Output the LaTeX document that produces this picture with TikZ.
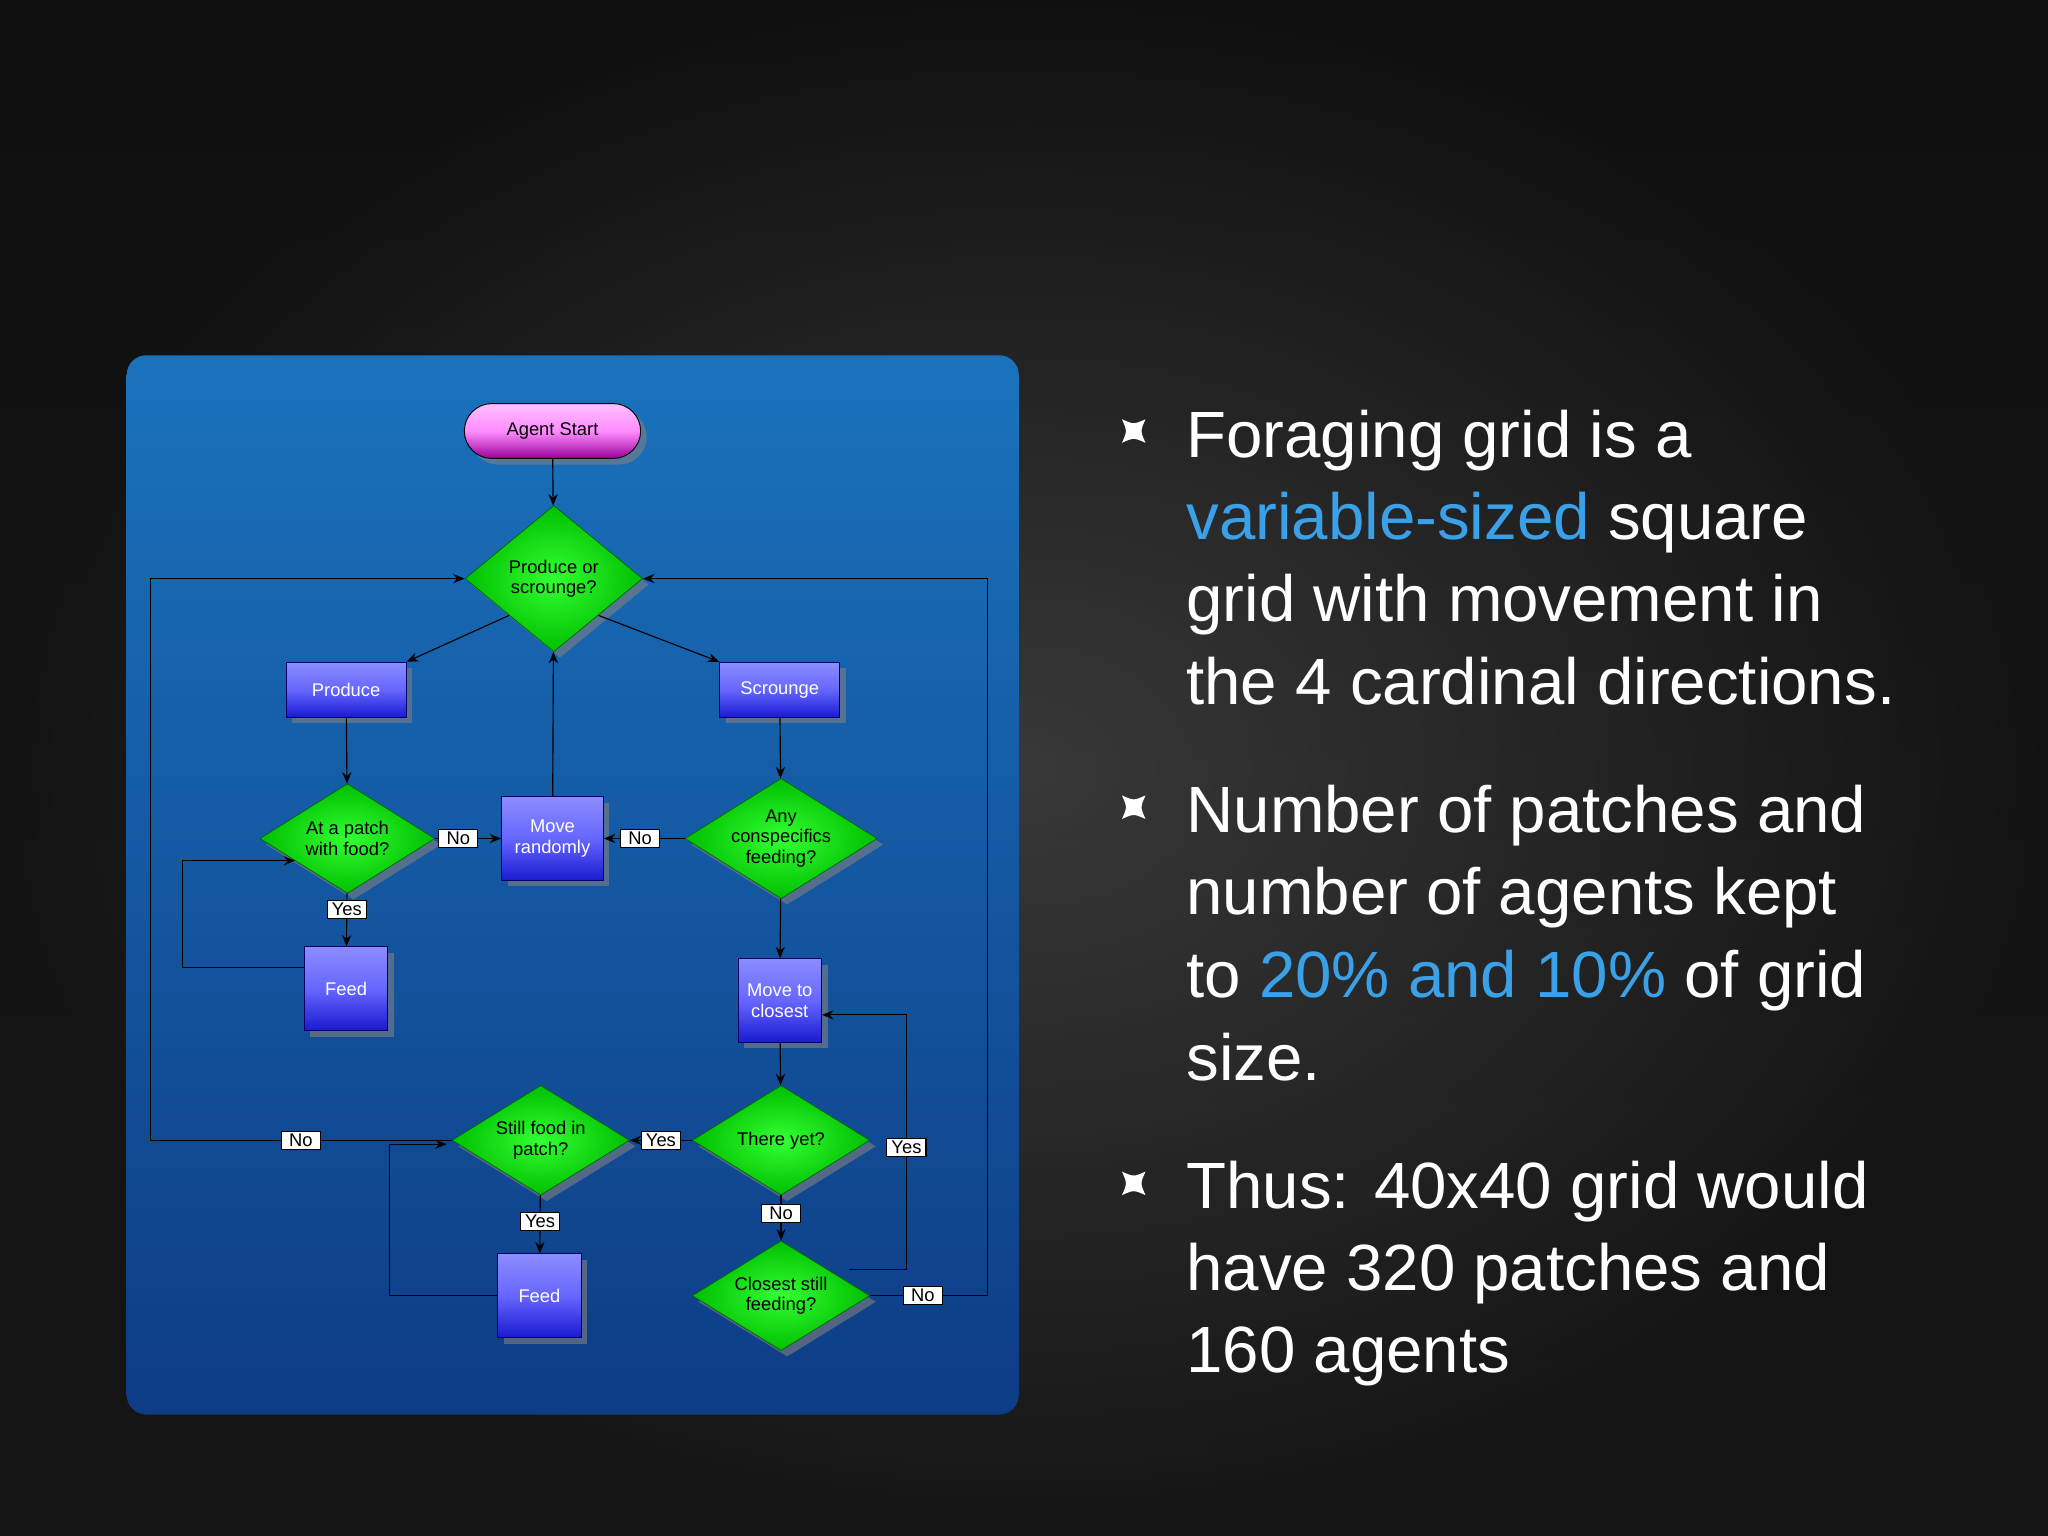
\documentclass[tikz,border=0pt]{standalone}
\usepackage{fontspec}
\setmainfont{Liberation Sans}
\usetikzlibrary{shapes.geometric,shadows,arrows.meta}
\definecolor{hl}{HTML}{3AA0E8}
\tikzset{
  box/.style={draw=blue!40!black,line width=0.4pt,top color=blue!45!white,bottom color=blue!80!black!90,middle color=blue!60,text=white,font=\fontsize{8}{9}\selectfont,align=center,drop shadow={opacity=0.6},inner sep=1pt},
  dia/.style={diamond,draw=green!40!black,line width=0.3pt,inner color=green!80!white,outer color=green!75!black,font=\fontsize{8}{9}\selectfont,align=center,inner sep=0pt,drop shadow={opacity=0.6}},
  lab/.style={draw=black,fill=white,font=\fontsize{8}{8}\selectfont,inner sep=1.2pt,minimum width=0.6cm},
  arr/.style={-{Stealth[length=5pt,width=4pt]},line width=0.5pt,black},
  bt/.style={anchor=base west,text=white,font=\fontsize{28.5}{28.5}\selectfont,inner sep=0pt},
}
\newcommand{\bul}[1]{\fill[white,shift={#1}] (-9,-9) .. controls (0,-5) .. (9,-9) .. controls (5,0) .. (9,9) .. controls (0,5) .. (-9,9) .. controls (-5,0) .. (-9,-9) -- cycle;}
\begin{document}
\begin{tikzpicture}[x=0.02cm,y=-0.02cm]
\useasboundingbox (0,0) rectangle (1568,1176);
\shade[top color=black!95,bottom color=black!88] (0,0) rectangle (1568,1176);
\shade[inner color=black!72,outer color=black!93,opacity=0.7] (0,0) rectangle (1568,1176);
\shade[top color={rgb,255:red,26;green,114;blue,188},bottom color={rgb,255:red,14;green,60;blue,134},rounded corners=0.3cm] (97,272) rectangle (780,1083);

\node[box,rounded corners=0.42cm,top color=magenta!25!white,bottom color=magenta!60!black,middle color=magenta!45,draw=black,text=black,minimum width=2.7cm,minimum height=0.84cm] (start) at (423,330) {Agent Start};
\node[dia,minimum width=2.72cm,minimum height=2.24cm,aspect=1.2] (pq) at (424,443) {Produce or\\scrounge?};
\node[box,minimum width=1.84cm,minimum height=0.84cm] (prod) at (265,528) {Produce};
\node[box,minimum width=1.84cm,minimum height=0.84cm] (scr) at (597,528) {Scrounge};
\node[dia,minimum width=2.68cm,minimum height=1.68cm,aspect=1.6] (ap) at (266,642) {At a patch\\with food?};
\node[box,minimum width=1.56cm,minimum height=1.28cm] (mr) at (423,642) {Move\\randomly};
\node[dia,minimum width=2.72cm,minimum height=1.68cm,aspect=1.6] (ac) at (598,642) {Any\\conspecifics\\feeding?};
\node[box,minimum width=1.28cm,minimum height=1.28cm] (f1) at (265,757) {Feed};
\node[box,minimum width=1.28cm,minimum height=1.28cm] (mc) at (597,766) {Move to\\closest};
\node[dia,minimum width=2.72cm,minimum height=1.68cm,aspect=1.6] (ty) at (598,873) {There yet?};
\node[dia,minimum width=2.72cm,minimum height=1.68cm,aspect=1.6] (sf) at (414,873) {Still food in\\patch?};
\node[box,minimum width=1.28cm,minimum height=1.28cm] (f2) at (413,992) {Feed};
\node[dia,minimum width=2.72cm,minimum height=1.68cm,aspect=1.6] (cs) at (598,992) {Closest still\\feeding?};

\coordinate (c1) at (140,741); \coordinate (c2) at (226,659);
\coordinate (c3) at (298,992); \coordinate (c4) at (342,876);
\coordinate (c5) at (115,873); \coordinate (c6) at (694,777);
\coordinate (c7) at (756,992); \coordinate (c8) at (650,972);

\draw[arr] (start) -- (pq);
\draw[arr] (pq.south west) -- (prod.north east);
\draw[arr] (pq.south east) -- (scr.north west);
\draw[arr] (prod) -- (ap);
\draw[arr] (ap) -- node[lab,pos=0.35]{No} (mr);
\draw[arr] (ac) -- node[lab,pos=0.55]{No} (mr);
\draw[arr] (mr) -- (pq);
\draw[arr] (ap) -- node[lab,pos=0.3]{Yes} (f1);
\draw[arr] ([yshift=0.32cm]f1.west) -| (c1) |- (c2);
\draw[arr] (scr) -- (ac);
\draw[arr] (ac) -- (mc);
\draw[arr] (mc) -- (ty);
\draw[arr] (ty) -- node[lab,pos=0.5]{Yes} (sf);
\draw[arr] (ty) -- node[lab,pos=0.4]{No} (cs);
\draw[arr] (sf) -- node[lab,pos=0.45]{Yes} (f2);
\draw[arr] (f2.west) -- (c3) |- (c4);
\draw[arr] (sf.west) -- node[lab,pos=0.5]{No} (c5) |- (pq.west);
\draw[arr] (c8) -| node[lab,pos=0.74]{Yes} (c6) -- (mc.east |- c6);
\draw[arr] (cs.east) -- node[lab,pos=0.45]{No} (c7) |- (pq.east);

\bul{(868,330)} \bul{(868,618)} \bul{(868,906)}
\node[bt] (t1) at (908,350) {Foraging grid is a};
\node[bt] (t2) at (908,413) {\textcolor{hl}{variable-sized} square};
\node[bt] (t3) at (908,476) {grid with movement in};
\node[bt] (t4) at (908,539) {the 4 cardinal directions.};
\node[bt] (t5) at (908,637) {Number of patches and};
\node[bt] (t6) at (908,700) {number of agents kept};
\node[bt] (t7) at (908,764) {to \textcolor{hl}{20\% and 10\%} of grid};
\node[bt] (t8) at (908,827) {size.};
\node[bt] (t9) at (908,925) {Thus: 40x40 grid would};
\node[bt] (t10) at (908,988) {have 320 patches and};
\node[bt] (t11) at (908,1051) {160 agents};
\end{tikzpicture}
\end{document}
